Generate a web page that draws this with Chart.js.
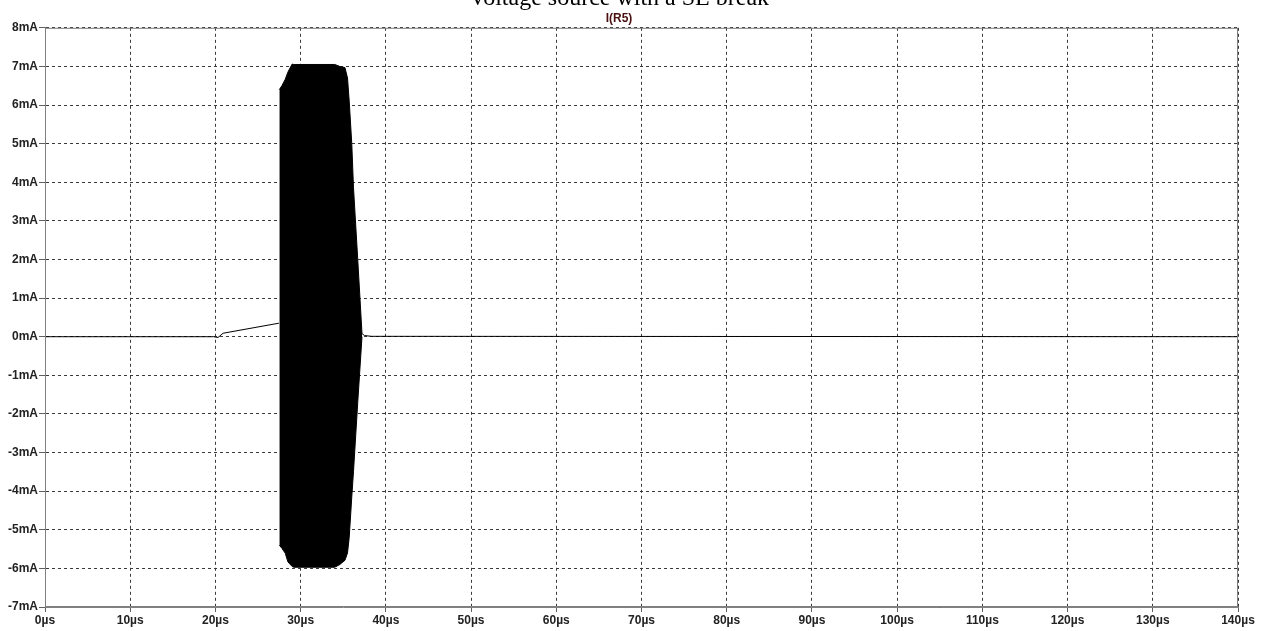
<!DOCTYPE html>
<html>
<head>
<meta charset="utf-8">
<script src="https://cdn.jsdelivr.net/npm/chart.js@4.4.1/dist/chart.umd.min.js"></script>
<style>
  html, body { margin: 0; padding: 0; background: #fff; overflow: hidden; }
  #wrap { position: absolute; left: 0; top: -20px; width: 1264px; height: 651px; }
</style>
</head>
<body>
<div id="wrap"><canvas id="myChart"></canvas></div>
<script>
// time in µs, current in mA
const leadT = [0, 19.8, 20.3, 20.9, 27.45];
const leadI = [0, 0, -0.02, 0.09, 0.35];

// envelope of the fast oscillation (the black burst)
const burstT  = [27.5, 27.8, 28.2, 28.5, 29.0, 29.2, 34.0, 34.6, 35.2, 35.5, 35.7, 36.0, 36.2, 36.7, 37.2];
const burstHi = [6.4, 6.5, 6.67, 6.85, 7.06, 7.05, 7.05, 7.0, 6.97, 6.7, 6.1, 5.0, 3.87, 2.0, 0.08];
const burstLo = [-5.4, -5.48, -5.61, -5.83, -5.95, -5.97, -5.97, -5.9, -5.79, -5.6, -5.2, -4.15, -3.5, -1.7, 0.0];

const tailT = [37.2, 37.5, 38.3, 140];
const tailI = [0.08, 0.03, 0.01, 0];

const xTicks = [0, 10, 20, 30, 40, 50, 60, 70, 80, 90, 100, 110, 120, 130, 140];
const yTicks = [8, 7, 6, 5, 4, 3, 2, 1, 0, -1, -2, -3, -4, -5, -6, -7];

const pts = (xs, ys) => xs.map((x, i) => ({ x: x, y: ys[i] }));

const frame = {
    id: 'frame',
    afterDatasetsDraw(chart) {
        const a = chart.chartArea;
        const c = chart.ctx;
        c.save();
        c.strokeStyle = '#808080';
        c.lineWidth = 1;
        c.strokeRect(a.left + 0.5, a.top + 0.5, a.right - a.left - 1, a.bottom - a.top - 1);
        c.restore();
    }
};

const ctx = document.getElementById('myChart');

new Chart(ctx, {
type: 'line',
data: {
    datasets: [{
        label: 'burstHi',
        data: pts(burstT, burstHi),
        borderColor: '#000',
        backgroundColor: '#000',
        borderWidth: 1,
        pointRadius: 0,
        fill: '+1'
    }, {
        label: 'burstLo',
        data: pts(burstT, burstLo),
        borderColor: '#000',
        borderWidth: 1,
        pointRadius: 0,
        fill: false
    }, {
        label: 'lead',
        data: pts(leadT, leadI),
        borderColor: '#000',
        borderWidth: 1,
        pointRadius: 0,
        fill: false
    }, {
        label: 'tail',
        data: pts(tailT, tailI),
        borderColor: '#000',
        borderWidth: 1,
        pointRadius: 0,
        fill: false
    }]
},
options: {
    responsive: true,
    maintainAspectRatio: false,
    animation: false,
    layout: {
        padding: { top: 0, right: 26, left: 0, bottom: 0 }
    },
    plugins: {
        legend: { display: false },
        tooltip: { enabled: false },
        title: {
            display: true,
            text: 'Voltage source with a SE break',
            color: '#000',
            font: { family: 'Liberation Serif', size: 24, weight: 'normal', lineHeight: 1.2 },
            padding: { top: 4, bottom: 0 }
        },
        subtitle: {
            display: true,
            text: 'I(R5)',
            color: '#4b0f0f',
            font: { family: 'Liberation Sans', size: 12, weight: 'bold', lineHeight: 1 },
            padding: { top: 0, bottom: 3 }
        }
    },
    scales: {
        x: {
            type: 'linear',
            min: 0,
            max: 140,
            afterBuildTicks: (s) => { s.ticks = xTicks.map(v => ({ value: v })); },
            afterFit: (s) => { s.height = 24; },
            grid: {
                color: '#3a3a3a',
                tickColor: '#606060',
                tickLength: 5,
                tickBorderDash: []
            },
            border: { color: '#808080', width: 1, dash: [3, 3] },
            ticks: {
                color: '#222',
                padding: 1,
                maxRotation: 0,
                font: { family: 'Liberation Sans', size: 12, weight: 'bold' },
                callback: (v) => v + 'µs'
            }
        },
        y: {
            min: -7,
            max: 8,
            afterBuildTicks: (s) => { s.ticks = yTicks.map(v => ({ value: v })); },
            afterFit: (s) => { s.width = 45; },
            grid: {
                color: '#3a3a3a',
                tickColor: '#606060',
                tickLength: 6,
                tickBorderDash: []
            },
            border: { color: '#808080', width: 1, dash: [3, 3] },
            ticks: {
                color: '#222',
                padding: 1,
                font: { family: 'Liberation Sans', size: 12, weight: 'bold' },
                callback: (v) => v + 'mA'
            }
        }
    }
},
plugins: [frame]
})
</script>
</body>
</html>
